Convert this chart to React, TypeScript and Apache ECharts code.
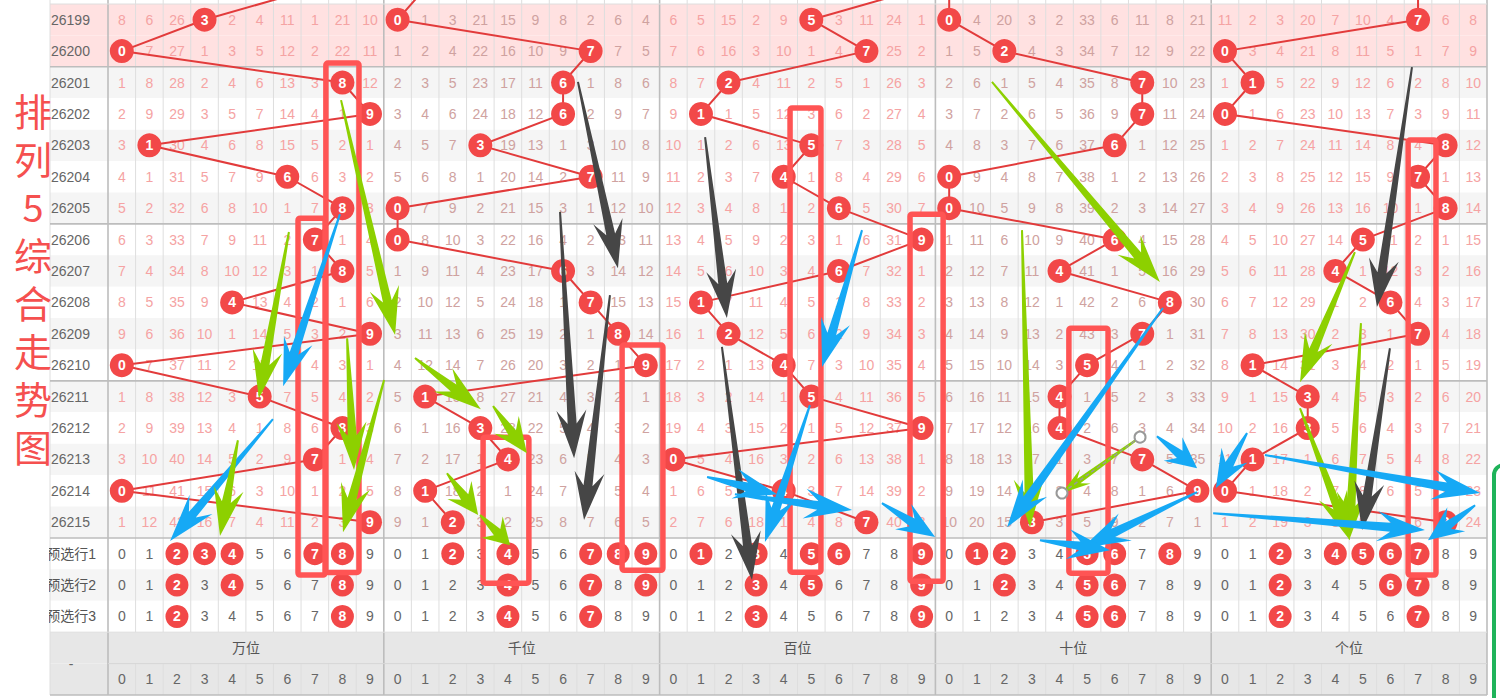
import React, { useEffect, useRef } from 'react';
import * as echarts from 'echarts';

const FONT = 'Arial, "Liberation Sans", "Noto Sans CJK SC", sans-serif';

const issues = ['26199', '26200', '26201', '26202', '26203', '26204', '26205', '26206', '26207', '26208', '26209', '26210', '26211', '26212', '26213', '26214', '26215'];
const groupNames = ['万位', '千位', '百位', '十位', '个位'];
const digitLabels = ['0', '1', '2', '3', '4', '5', '6', '7', '8', '9'];
const preLabels = ['预选行1', '预选行2', '预选行3'];

// draw of issue 26198 (only its link lines are visible at the top edge)
const prevDraws = [7, 1, 9, 0, 7];
const wanDraws = [3, 0, 8, 9, 1, 6, 8, 7, 8, 4, 9, 0, 5, 8, 7, 0, 9];
const qianDraws = [0, 7, 6, 6, 3, 7, 0, 0, 6, 7, 8, 9, 1, 3, 4, 1, 2];
const baiDraws = [5, 7, 2, 1, 5, 4, 6, 9, 6, 1, 2, 4, 5, 9, 0, 4, 7];
const shiDraws = [0, 2, 7, 7, 6, 0, 0, 6, 4, 8, 7, 5, 4, 4, 7, 9, 3];
const geDraws = [7, 0, 1, 0, 8, 7, 8, 5, 4, 6, 7, 1, 3, 3, 1, 0, 8];

const wanMiss = [
  [8, 6, 26, 0, 2, 4, 11, 1, 21, 10],
  [0, 7, 27, 1, 3, 5, 12, 2, 22, 11],
  [1, 8, 28, 2, 4, 6, 13, 3, 0, 12],
  [2, 9, 29, 3, 5, 7, 14, 4, 1, 0],
  [3, 0, 30, 4, 6, 8, 15, 5, 2, 1],
  [4, 1, 31, 5, 7, 9, 0, 6, 3, 2],
  [5, 2, 32, 6, 8, 10, 1, 7, 0, 3],
  [6, 3, 33, 7, 9, 11, 2, 0, 1, 4],
  [7, 4, 34, 8, 10, 12, 3, 1, 0, 5],
  [8, 5, 35, 9, 0, 13, 4, 2, 1, 6],
  [9, 6, 36, 10, 1, 14, 5, 3, 2, 0],
  [0, 7, 37, 11, 2, 15, 6, 4, 3, 1],
  [1, 8, 38, 12, 3, 0, 7, 5, 4, 2],
  [2, 9, 39, 13, 4, 1, 8, 6, 0, 3],
  [3, 10, 40, 14, 5, 2, 9, 0, 1, 4],
  [0, 11, 41, 15, 6, 3, 10, 1, 2, 5],
  [1, 12, 42, 16, 7, 4, 11, 2, 3, 0],
];
const qianMiss = [
  [0, 1, 3, 21, 15, 9, 8, 2, 6, 4],
  [1, 2, 4, 22, 16, 10, 9, 0, 7, 5],
  [2, 3, 5, 23, 17, 11, 0, 1, 8, 6],
  [3, 4, 6, 24, 18, 12, 0, 2, 9, 7],
  [4, 5, 7, 0, 19, 13, 1, 3, 10, 8],
  [5, 6, 8, 1, 20, 14, 2, 0, 11, 9],
  [0, 7, 9, 2, 21, 15, 3, 1, 12, 10],
  [0, 8, 10, 3, 22, 16, 4, 2, 13, 11],
  [1, 9, 11, 4, 23, 17, 0, 3, 14, 12],
  [2, 10, 12, 5, 24, 18, 1, 0, 15, 13],
  [3, 11, 13, 6, 25, 19, 2, 1, 0, 14],
  [4, 12, 14, 7, 26, 20, 3, 2, 1, 0],
  [5, 0, 15, 8, 27, 21, 4, 3, 2, 1],
  [6, 1, 16, 0, 28, 22, 5, 4, 3, 2],
  [7, 2, 17, 1, 0, 23, 6, 5, 4, 3],
  [8, 0, 18, 2, 1, 24, 7, 6, 5, 4],
  [9, 1, 0, 3, 2, 25, 8, 7, 6, 5],
];
const baiMiss = [
  [6, 5, 15, 2, 9, 0, 3, 11, 24, 1],
  [7, 6, 16, 3, 10, 1, 4, 0, 25, 2],
  [8, 7, 0, 4, 11, 2, 5, 1, 26, 3],
  [9, 0, 1, 5, 12, 3, 6, 2, 27, 4],
  [10, 1, 2, 6, 13, 0, 7, 3, 28, 5],
  [11, 2, 3, 7, 0, 1, 8, 4, 29, 6],
  [12, 3, 4, 8, 1, 2, 0, 5, 30, 7],
  [13, 4, 5, 9, 2, 3, 1, 6, 31, 0],
  [14, 5, 6, 10, 3, 4, 0, 7, 32, 1],
  [15, 0, 7, 11, 4, 5, 1, 8, 33, 2],
  [16, 1, 0, 12, 5, 6, 2, 9, 34, 3],
  [17, 2, 1, 13, 0, 7, 3, 10, 35, 4],
  [18, 3, 2, 14, 1, 0, 4, 11, 36, 5],
  [19, 4, 3, 15, 2, 1, 5, 12, 37, 0],
  [0, 5, 4, 16, 3, 2, 6, 13, 38, 1],
  [1, 6, 5, 17, 0, 3, 7, 14, 39, 2],
  [2, 7, 6, 18, 1, 4, 8, 0, 40, 3],
];
const shiMiss = [
  [0, 4, 20, 3, 2, 33, 6, 11, 8, 21],
  [1, 5, 0, 4, 3, 34, 7, 12, 9, 22],
  [2, 6, 1, 5, 4, 35, 8, 0, 10, 23],
  [3, 7, 2, 6, 5, 36, 9, 0, 11, 24],
  [4, 8, 3, 7, 6, 37, 0, 1, 12, 25],
  [0, 9, 4, 8, 7, 38, 1, 2, 13, 26],
  [0, 10, 5, 9, 8, 39, 2, 3, 14, 27],
  [1, 11, 6, 10, 9, 40, 0, 4, 15, 28],
  [2, 12, 7, 11, 0, 41, 1, 5, 16, 29],
  [3, 13, 8, 12, 1, 42, 2, 6, 0, 30],
  [4, 14, 9, 13, 2, 43, 3, 0, 1, 31],
  [5, 15, 10, 14, 3, 0, 4, 1, 2, 32],
  [6, 16, 11, 15, 0, 1, 5, 2, 3, 33],
  [7, 17, 12, 16, 0, 2, 6, 3, 4, 34],
  [8, 18, 13, 17, 1, 3, 7, 0, 5, 35],
  [9, 19, 14, 18, 2, 4, 8, 1, 6, 0],
  [10, 20, 15, 0, 3, 5, 9, 2, 7, 1],
];
const geMiss = [
  [11, 2, 3, 20, 7, 10, 4, 0, 6, 8],
  [0, 3, 4, 21, 8, 11, 5, 1, 7, 9],
  [1, 0, 5, 22, 9, 12, 6, 2, 8, 10],
  [0, 1, 6, 23, 10, 13, 7, 3, 9, 11],
  [1, 2, 7, 24, 11, 14, 8, 4, 0, 12],
  [2, 3, 8, 25, 12, 15, 9, 0, 1, 13],
  [3, 4, 9, 26, 13, 16, 10, 1, 0, 14],
  [4, 5, 10, 27, 14, 0, 11, 2, 1, 15],
  [5, 6, 11, 28, 0, 1, 12, 3, 2, 16],
  [6, 7, 12, 29, 1, 2, 0, 4, 3, 17],
  [7, 8, 13, 30, 2, 3, 1, 0, 4, 18],
  [8, 0, 14, 31, 3, 4, 2, 1, 5, 19],
  [9, 1, 15, 0, 4, 5, 3, 2, 6, 20],
  [10, 2, 16, 0, 5, 6, 4, 3, 7, 21],
  [11, 0, 17, 1, 6, 7, 5, 4, 8, 22],
  [0, 1, 18, 2, 7, 8, 6, 5, 9, 23],
  [1, 2, 19, 3, 8, 9, 7, 6, 0, 24],
];

const pre1 = [[2, 3, 4, 7, 8], [2, 4, 7, 8, 9], [1, 3, 5, 6, 9], [1, 2, 5, 6, 8], [2, 4, 5, 6, 7]];
const pre2 = [[2, 4, 8], [4, 7, 9], [3, 5, 9], [2, 5, 6], [2, 6, 7]];
const pre3 = [[2, 8], [4, 7], [3, 9], [5, 6], [2, 7]];

// hand-drawn annotations, in (column, row) units of the chart
const annotationBoxes = [
  [7.9, 1.88, 9.1, 18.1],
  [6.89, 6.82, 7.87, 18.18],
  [13.6, 13.79, 15.26, 18.44],
  [18.64, 10.86, 20.12, 18.03],
  [24.73, 3.31, 25.85, 18.09],
  [29.08, 6.69, 30.28, 18.38],
  [34.84, 10.32, 36.26, 18.12],
  [47.14, 4.33, 48.15, 18.18],
];
// kind: 0 green, 1 blue, 2 dark, 3 small green
const arrows = [
  [8.45, 3.06, 10.41, 10.54, 0],
  [6.56, 7.26, 5.47, 12.55, 0],
  [8.41, 6.69, 6.35, 12.17, 1],
  [8.67, 10.64, 8.92, 14.84, 0],
  [10.01, 11.97, 8.52, 16.82, 0],
  [5.98, 13.22, 2.25, 17.1, 1],
  [4.71, 13.89, 4.06, 16.94, 0],
  [11.13, 11.27, 13.52, 12.9, 0],
  [13.96, 12.8, 15.19, 14.3, 0],
  [12.29, 14.94, 13.42, 16.27, 0],
  [13.49, 16.27, 14.58, 17.23, 0],
  [17.04, 2.48, 18.49, 8.41, 2],
  [16.39, 6.62, 16.9, 14.46, 2],
  [18.2, 9.27, 17.26, 16.43, 2],
  [21.65, 4.24, 22.44, 10.0, 2],
  [22.26, 10.92, 23.35, 18.34, 2],
  [27.34, 7.2, 25.89, 11.56, 1],
  [25.45, 12.77, 23.82, 17.13, 1],
  [21.72, 15.06, 24.26, 15.61, 1],
  [22.73, 15.61, 26.98, 16.11, 1],
  [28.06, 15.89, 29.99, 16.97, 1],
  [32.05, 2.48, 38.14, 8.85, 0],
  [33.14, 7.2, 33.43, 16.66, 0],
  [38.25, 9.68, 32.6, 16.66, 1],
  [37.42, 13.79, 34.59, 15.57, 3],
  [38.03, 13.76, 39.49, 14.78, 1],
  [39.49, 15.54, 35.32, 17.32, 1],
  [33.79, 17.07, 36.33, 17.39, 1],
  [47.28, 2.01, 46.01, 9.65, 2],
  [45.21, 7.9, 43.22, 12.04, 0],
  [45.43, 10.16, 45.0, 17.07, 0],
  [43.22, 12.87, 45.03, 17.07, 0],
  [46.48, 10.96, 45.47, 16.75, 2],
  [41.3, 13.66, 40.17, 15.41, 1],
  [41.95, 14.36, 49.75, 15.57, 1],
  [40.07, 16.21, 47.75, 16.75, 1],
  [49.57, 15.96, 47.86, 17.07, 1],
];
const markerPairs = [[37.42, 13.79, 34.59, 15.57]];

const X_MIN = -2.103;
const X_MAX = 50;
const Y_MAX = 22;

const groupDraws = [wanDraws, qianDraws, baiDraws, shiDraws, geDraws];
const groupMiss = [wanMiss, qianMiss, baiMiss, shiMiss, geMiss];
const preRows = [pre1, pre2, pre3];
const missColors = ['#f5a3a3', '#cfa2a0', '#f5a3a3', '#cfa2a0', '#f5a3a3'];
const arrowColors = ['#8dd000', '#16a9f5', '#464646', '#8dd000'];

export default function App() {
  const ref = useRef<HTMLDivElement>(null);
  useEffect(() => {
    const chart = echarts.init(ref.current!, null, { renderer: 'svg' });

    // row backgrounds
    const bgRows: any[] = [];
    for (let i = 0; i < Y_MAX; i++) {
      let c = '#ffffff';
      if (i < 2) c = '#ffe1e1';
      else if (i >= 20) c = '#e7e7e7';
      else if (i % 2 === 0) c = '#f5f5f5';
      bgRows.push({ value: [X_MIN, i], color: c });
    }

    // grid lines [x1,y1,x2,y2,kind]
    const gridLines: number[][] = [];
    gridLines.push([X_MIN, -1, X_MIN, Y_MAX, 0]);
    for (let k = 0; k <= 50; k++) {
      if (k % 10 === 0) gridLines.push([k, -1, k, Y_MAX, 1]);
      else {
        gridLines.push([k, -1, k, 20, 0]);
        gridLines.push([k, 21, k, Y_MAX, 0]);
      }
    }
    [0, 20].forEach((r) => gridLines.push([X_MIN, r, X_MAX, r, 0]));
    [2, 7, 12, 17, Y_MAX].forEach((r) => gridLines.push([X_MIN, r, X_MAX, r, 1]));
    gridLines.push([0, 21, X_MAX, 21, 2]);

    // texts
    const texts: any[] = [];
    issues.forEach((t, r) => texts.push({ x: -2.067, y: r + 0.5, text: t, color: '#666666', align: 'left' }));
    groupMiss.forEach((m, g) => {
      m.forEach((row, r) => {
        row.forEach((v, c) => {
          if (c !== groupDraws[g][r]) texts.push({ x: g * 10 + c + 0.5, y: r + 0.5, text: String(v), color: missColors[g], align: 'center' });
        });
      });
    });
    preLabels.forEach((t, p) => {
      texts.push({ x: -0.435, y: 17 + p + 0.5, text: t, color: '#555555', align: 'right' });
      for (let g = 0; g < 5; g++) {
        digitLabels.forEach((d, c) => {
          if (preRows[p][g].indexOf(c) < 0) texts.push({ x: g * 10 + c + 0.5, y: 17 + p + 0.5, text: d, color: '#666666', align: 'center' });
        });
      }
    });
    groupNames.forEach((n, g) => texts.push({ x: g * 10 + 5, y: 20.5, text: n, color: '#555555', align: 'center' }));
    for (let g = 0; g < 5; g++) digitLabels.forEach((d, c) => texts.push({ x: g * 10 + c + 0.5, y: 21.5, text: d, color: '#666666', align: 'center' }));
    texts.push({ x: -1.34, y: 21, text: '-', color: '#666666', align: 'center' });

    // balls
    const balls: number[][] = [];
    groupDraws.forEach((ds, g) => ds.forEach((d, r) => balls.push([g * 10 + d + 0.5, r + 0.5, d])));
    const preBalls: number[][] = [];
    preRows.forEach((pr, p) => pr.forEach((ds, g) => ds.forEach((d) => preBalls.push([g * 10 + d + 0.5, 17 + p + 0.5, d]))));

    const linkSeries = groupDraws.map((ds, g) => ({
      type: 'line',
      data: [[g * 10 + prevDraws[g] + 0.5, -0.5]].concat(ds.map((d, r) => [g * 10 + d + 0.5, r + 0.5])),
      symbol: 'none',
      clip: false,
      silent: true,
      z: 3,
      lineStyle: { color: '#e23b3b', width: 2 },
    }));

    const option: any = {
      animation: false,
      backgroundColor: '#ffffff',
      grid: { left: 50, right: 13, top: 4, bottom: 3 },
      xAxis: { type: 'value', min: X_MIN, max: X_MAX, show: false },
      yAxis: { type: 'value', min: 0, max: Y_MAX, inverse: true, show: false },
      graphic: [
        { type: 'rect', z: 100, shape: { x: 0, y: 538, width: 49, height: 94 }, style: { fill: '#ffffff' } },
        {
          type: 'text', z: 101, x: 33, y: 85,
          style: {
            text: '排\n列\n5\n综\n合\n走\n势\n图', fill: '#f5504f', fontSize: 38, lineHeight: 48,
            fontFamily: '"Noto Sans CJK SC", sans-serif', align: 'center', verticalAlign: 'top',
            textShadowColor: 'rgba(230,60,230,0.7)', textShadowOffsetX: 1.5, textShadowOffsetY: 0.5, textShadowBlur: 0,
          },
        },
        { type: 'rect', z: 100, shape: { x: 1494, y: 465, width: 40, height: 260, r: 10 }, style: { fill: '#ffffff', stroke: '#1fb35a', lineWidth: 4 } },
      ],
      series: [
        {
          type: 'custom', z: 0, silent: true,
          data: bgRows.map((b) => b.value),
          encode: { x: 0, y: 1 },
          renderItem: (params: any, api: any) => {
            const i = api.value(1);
            const a = api.coord([X_MIN, i]);
            const b = api.coord([X_MAX, i + 1]);
            return { type: 'rect', shape: { x: a[0], y: a[1], width: b[0] - a[0], height: b[1] - a[1] }, style: { fill: bgRows[params.dataIndex].color } };
          },
        },
        {
          type: 'custom', z: 1, silent: true,
          data: gridLines,
          encode: { x: [0, 2], y: [1, 3] },
          renderItem: (params: any, api: any) => {
            const a = api.coord([api.value(0), api.value(1)]);
            const b = api.coord([api.value(2), api.value(3)]);
            const k = api.value(4);
            const stroke = k === 1 ? '#bdbdbd' : k === 2 ? '#d6d6d6' : '#dedede';
            const lw = k === 1 ? 1.6 : 1;
            return { type: 'line', shape: { x1: a[0], y1: a[1], x2: b[0], y2: b[1] }, style: { stroke, lineWidth: lw } };
          },
        },
        {
          type: 'custom', z: 2, silent: true,
          data: texts.map((t) => [t.x, t.y]),
          encode: { x: 0, y: 1 },
          renderItem: (params: any, api: any) => {
            const t = texts[params.dataIndex];
            const p = api.coord([api.value(0), api.value(1)]);
            return {
              type: 'text', x: p[0], y: p[1],
              style: { text: t.text, fill: t.color, fontSize: 14, fontFamily: FONT, align: t.align, verticalAlign: 'middle' },
            };
          },
        },
        ...linkSeries,
        {
          type: 'scatter', z: 4, silent: true,
          data: balls,
          symbol: 'circle', symbolSize: 24,
          itemStyle: { color: '#f24848', opacity: 1 },
          label: { show: true, position: 'inside', formatter: (p: any) => String(p.value[2]), color: '#ffffff', fontWeight: 'bold', fontSize: 14, fontFamily: FONT },
        },
        {
          type: 'scatter', z: 4, silent: true,
          data: preBalls,
          symbol: 'circle', symbolSize: 23,
          itemStyle: { color: '#f24848', opacity: 1 },
          label: { show: true, position: 'inside', formatter: (p: any) => String(p.value[2]), color: '#ffffff', fontWeight: 'bold', fontSize: 14, fontFamily: FONT },
        },
        {
          type: 'custom', z: 5, silent: true,
          data: annotationBoxes,
          encode: { x: [0, 2], y: [1, 3] },
          renderItem: (params: any, api: any) => {
            const a = api.coord([api.value(0), api.value(1)]);
            const b = api.coord([api.value(2), api.value(3)]);
            return { type: 'rect', shape: { x: a[0], y: a[1], width: b[0] - a[0], height: b[1] - a[1], r: 2 }, style: { fill: 'none', stroke: '#ff5454', lineWidth: 5.5 } };
          },
        },
        {
          type: 'custom', z: 6, silent: true,
          data: arrows,
          encode: { x: [0, 2], y: [1, 3] },
          renderItem: (params: any, api: any) => {
            const a = api.coord([api.value(0), api.value(1)]);
            const b = api.coord([api.value(2), api.value(3)]);
            const kind = api.value(4);
            const dx = b[0] - a[0];
            const dy = b[1] - a[1];
            const L = Math.hypot(dx, dy);
            const ux = dx / L, uy = dy / L, nx = -uy, ny = ux;
            const s = kind === 3 ? 0.6 : 1;
            const hl = Math.min(48 * s, L * 0.6);
            const hw = 15 * s;
            const sw = 4.5 * s;
            const tw = 1;
            const neck = [b[0] - ux * hl * 0.72, b[1] - uy * hl * 0.72];
            const back = [b[0] - ux * hl, b[1] - uy * hl];
            const pts = [
              [a[0] + nx * tw, a[1] + ny * tw],
              [neck[0] + nx * sw, neck[1] + ny * sw],
              [back[0] + nx * hw, back[1] + ny * hw],
              [b[0], b[1]],
              [back[0] - nx * hw, back[1] - ny * hw],
              [neck[0] - nx * sw, neck[1] - ny * sw],
              [a[0] - nx * tw, a[1] - ny * tw],
            ];
            return { type: 'polygon', shape: { points: pts }, style: { fill: arrowColors[kind] } };
          },
        },
        {
          type: 'custom', z: 7, silent: true,
          data: markerPairs,
          encode: { x: [0, 2], y: [1, 3] },
          renderItem: (params: any, api: any) => {
            const a = api.coord([api.value(0), api.value(1)]);
            const b = api.coord([api.value(2), api.value(3)]);
            return {
              type: 'group',
              children: [
                { type: 'line', shape: { x1: a[0], y1: a[1], x2: b[0], y2: b[1] }, style: { stroke: '#999999', lineWidth: 1.5, lineDash: [4, 3] } },
                { type: 'circle', shape: { cx: a[0], cy: a[1], r: 5.5 }, style: { fill: '#ffffff', stroke: '#999999', lineWidth: 2 } },
                { type: 'circle', shape: { cx: b[0], cy: b[1], r: 5.5 }, style: { fill: '#ffffff', stroke: '#999999', lineWidth: 2 } },
              ],
            };
          },
        },
      ],
    };
    chart.setOption(option);
    return () => chart.dispose();
  }, []);
  return <div ref={ref} style={{ position: 'fixed', left: 0, top: 0, width: 1500, height: 698, background: '#ffffff' }} />;
}
